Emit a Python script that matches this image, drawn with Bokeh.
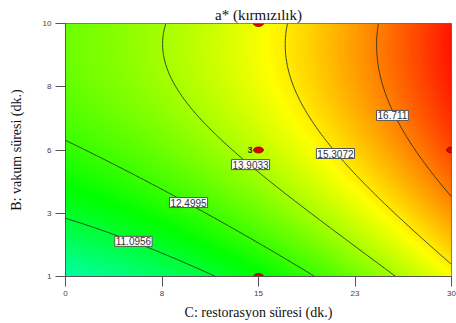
import numpy as np
import colorsys
from bokeh.plotting import figure
from bokeh.models import FixedTicker, LinearColorMapper
from bokeh.core.properties import value
from bokeh.embed import file_html
from bokeh.resources import INLINE

# ---- data ----
levels = [11.0956, 12.4995, 13.9033, 15.3072, 16.711]

# points (C: restorasyon süresi, B: vakum süresi)
c11 = [0.0, 2.18, 5.28, 8.70, 11.2]
b11 = [2.99, 2.64, 2.25, 1.57, 1.0]
c12 = [0.0, 5.83, 7.38, 9.56, 11.27, 14.38, 19.3]
b12 = [6.02, 4.41, 4.06, 3.63, 3.10, 2.39, 1.0]
c13 = [8.16, 7.93, 9.48, 11.27, 12.05, 14.38, 18.26, 22.15, 25.6]
b13 = [10.0, 9.40, 7.72, 6.19, 5.84, 4.98, 3.70, 2.53, 1.0]
c15 = [17.1, 16.94, 18.26, 20.4, 20.98, 23.47, 27.36, 29.9]
b15 = [10.0, 9.15, 7.15, 5.59, 5.375, 4.06, 2.53, 1.57]
c16 = [24.1, 23.94, 25.0, 25.41, 27.05, 28.6, 30.0]
b16 = [10.0, 8.93, 7.72, 6.73, 5.48, 4.66, 3.77]

# corner values estimated from the colours
corner_c = [0.0, 0.0, 30.0, 30.0]
corner_b = [1.0, 10.0, 1.0, 10.0]
corner_v = [9.5, 13.2, 15.1, 18.0]

# design points
design_c = [15, 15, 30, 15]
design_b = [10, 5.5, 5.5, 1]

# contour label positions
label_c = [5.28, 9.56, 14.38, 20.98, 25.41]
label_b = [2.25, 3.63, 4.98, 5.375, 6.73]

x_ticks = [0, 7.5, 15, 22.5, 30]
x_tick_labels = ["0", "8", "15", "23", "30"]
y_ticks = [1, 3.25, 5.5, 7.75, 10]
y_tick_labels = ["1", "3", "6", "8", "10"]

# ---- fit a cubic response surface to the traced contours ----
C = np.concatenate([c11, c12, c13, c15, c16, corner_c]).astype(float)
B = np.concatenate([b11, b12, b13, b15, b16, corner_b]).astype(float)
V = np.concatenate([[levels[0]] * len(c11), [levels[1]] * len(c12), [levels[2]] * len(c13),
                    [levels[3]] * len(c15), [levels[4]] * len(c16), corner_v]).astype(float)


def terms(c, b):
    u = (np.asarray(c) - 15.0) / 15.0
    v = (np.asarray(b) - 5.5) / 4.5
    return np.stack([np.ones_like(u), u, v, u * u, u * v, v * v,
                     u ** 3, u * u * v, u * v * v, v ** 3], axis=-1)


coef, *_ = np.linalg.lstsq(terms(C, B), V, rcond=None)

gx = np.linspace(0, 30, 241)
gy = np.linspace(1, 10, 181)
GX, GY = np.meshgrid(gx, gy)
Z = terms(GX, GY) @ coef

# palette cyan -> green -> yellow -> red
palette = []
for i in range(256):
    h = (180.0 * (1 - i / 255.0)) / 360.0
    r, g, b = colorsys.hsv_to_rgb(h, 1.0, 1.0)
    palette.append("#%02x%02x%02x" % (int(r * 255), int(g * 255), int(b * 255)))
mapper = LinearColorMapper(palette=palette, low=8.4, high=18.4)

p = figure(frame_width=386, frame_height=253, x_range=(0, 30), y_range=(1, 10),
           output_backend="svg", toolbar_location=None,
           title="a* (kırmızılık)",
           x_axis_label="C: restorasyon süresi (dk.)",
           y_axis_label="B: vakum süresi (dk.)")
p.min_border_left = 65
p.min_border_right = 5
p.min_border_top = 23
p.min_border_bottom = 47
p.background_fill_color = "white"
p.border_fill_color = "white"
p.outline_line_color = "#666666"

p.title.align = "center"
p.title.text_font = "Liberation Serif"
p.title.text_font_size = "15px"
p.title.text_font_style = "normal"
p.title.text_color = "#111111"
p.title.offset = 0
p.title.standoff = 2

p.image(image=[Z], x=0, y=1, dw=30, dh=9, color_mapper=mapper)
p.contour(gx, gy, Z, levels=levels, line_color="#223322", line_width=0.9, fill_color=None)

p.grid.visible = False
for ax in (p.xaxis[0], p.yaxis[0]):
    ax.axis_line_color = "#555555"
    ax.major_tick_line_color = "#555555"
    ax.major_tick_out = 10
    ax.major_tick_in = 0
    ax.minor_tick_line_color = None
    ax.major_label_text_font = "Liberation Sans"
    ax.major_label_text_font_size = "8px"
    ax.major_label_text_color = "#444444"
    ax.axis_label_text_font = "Liberation Serif"
    ax.axis_label_text_font_size = "14px"
    ax.axis_label_text_font_style = "normal"
    ax.axis_label_text_color = "#111111"

p.xaxis.ticker = FixedTicker(ticks=x_ticks)
p.xaxis.major_label_overrides = dict(zip(x_ticks, x_tick_labels))
p.yaxis.ticker = FixedTicker(ticks=y_ticks)
p.yaxis.major_label_overrides = dict(zip(y_ticks, y_tick_labels))
p.xaxis.axis_label_standoff = 6
p.yaxis.axis_label_standoff = 16
p.yaxis.major_label_standoff = 4
p.xaxis.major_label_standoff = 4

p.text(label_c, label_b, text=[str(l) for l in levels], text_align="center",
       text_baseline="middle", text_font=value("Liberation Sans"), text_font_size="10px",
       text_color="#333333", background_fill_color="white", border_line_color="#555555",
       padding=1)

p.ellipse(design_c, design_b, width=10, height=6, width_units="screen", height_units="screen",
          fill_color="#dd0000", line_color="#880000", line_width=0.8)
p.text([design_c[1]], [design_b[1]], text=["3"], x_offset=-6, text_align="right",
       text_baseline="middle", text_font=value("Liberation Sans"), text_font_size="9px",
       text_font_style="bold", text_color="#333333")

open("out.html", "w").write(file_html(p, INLINE))
